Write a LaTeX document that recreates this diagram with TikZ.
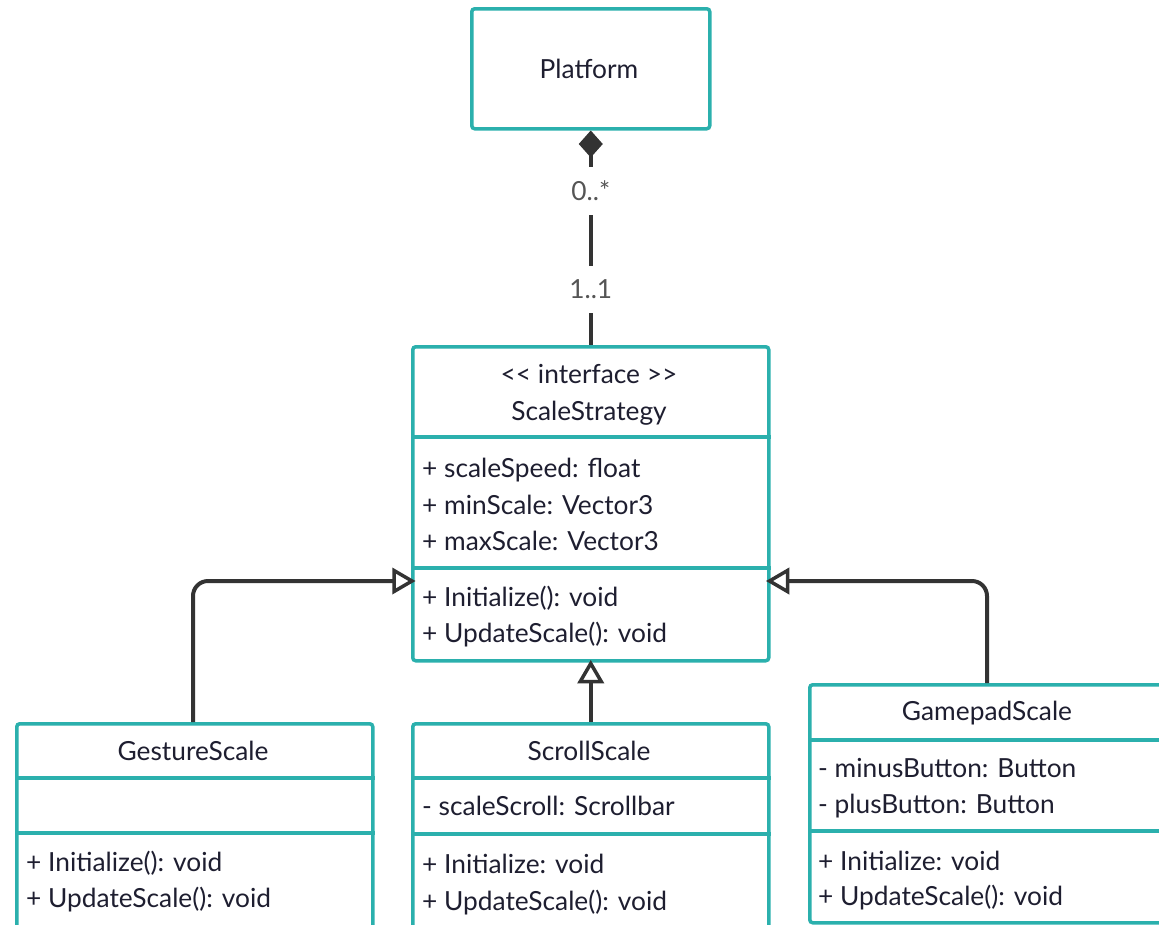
\documentclass[tikz,border=0pt]{standalone}
\usepackage{fontspec}
\setmainfont{Lato}
\usetikzlibrary{arrows.meta,calc}
\definecolor{teal}{RGB}{43,176,173}
\definecolor{ink}{RGB}{30,30,48}
\definecolor{wire}{RGB}{51,51,51}
\definecolor{multgray}{RGB}{85,85,85}
\tikzset{
  classbox/.style={draw=teal, line width=3.5pt, fill=white, rounded corners=3pt, anchor=north west, inner sep=0pt},
  sepline/.style={draw=teal, line width=3.5pt},
  txt/.style={text=ink, font=\fontsize{26.3}{30}\selectfont, inner sep=0pt},
  mult/.style={text=multgray, font=\fontsize{26.3}{30}\selectfont, fill=white, inner ysep=14pt, inner xsep=4pt},
  wireline/.style={draw=wire, line width=4pt},
  elbowline/.style={wireline, rounded corners=15pt},
  openhead/.style={draw=wire, line width=3.5pt, fill=white, line join=miter},
}
\begin{document}
\begin{tikzpicture}[x=1pt, y=-1pt]
\useasboundingbox (0,0) rectangle (1159,924);
\clip (0,0) rectangle (1159,924);

% Platform
\node[classbox, minimum width=238pt, minimum height=120pt] (plat) at (470,7) {};
\node[txt, anchor=base] at (589,78) {Platform};

% ScaleStrategy
\node[classbox, minimum width=356pt, minimum height=314pt] (ss) at (411,345) {};
\draw[sepline] (ss.west |- 0,437) -- (ss.east |- 0,437);
\draw[sepline] (ss.west |- 0,568) -- (ss.east |- 0,568);
\node[txt, anchor=base] at (589,383) {{<}{<} interface {>}{>}};
\node[txt, anchor=base] at (589,420) {ScaleStrategy};
\node[txt, anchor=base west] at (422,477) {+ scaleSpeed: float};
\node[txt, anchor=base west] at (422,514) {+ minScale: Vector3};
\node[txt, anchor=base west] at (422,550) {+ maxScale: Vector3};
\node[txt, anchor=base west] at (422,606) {+ Initialize(): void};
\node[txt, anchor=base west] at (422,642) {+ UpdateScale(): void};

% GestureScale
\node[classbox, minimum width=356pt, minimum height=240pt] (gs) at (15,722) {};
\draw[sepline] (gs.west |- 0,778) -- (gs.east |- 0,778);
\draw[sepline] (gs.west |- 0,833) -- (gs.east |- 0,833);
\node[txt, anchor=base] at (193,760) {GestureScale};
\node[txt, anchor=base west] at (26,871) {+ Initialize(): void};
\node[txt, anchor=base west] at (26,907) {+ UpdateScale(): void};

% ScrollScale
\node[classbox, minimum width=356pt, minimum height=240pt] (sc) at (411,722) {};
\draw[sepline] (sc.west |- 0,778) -- (sc.east |- 0,778);
\draw[sepline] (sc.west |- 0,834) -- (sc.east |- 0,834);
\node[txt, anchor=base] at (589,760) {ScrollScale};
\node[txt, anchor=base west] at (422,815) {- scaleScroll: Scrollbar};
\node[txt, anchor=base west] at (422,873) {+ Initialize: void};
\node[txt, anchor=base west] at (422,910) {+ UpdateScale(): void};

% GamepadScale
\node[classbox, minimum width=358pt, minimum height=238pt] (gp) at (808,683) {};
\draw[sepline] (gp.west |- 0,740) -- (gp.east |- 0,740);
\draw[sepline] (gp.west |- 0,831) -- (gp.east |- 0,831);
\node[txt, anchor=base] at (987,720) {GamepadScale};
\node[txt, anchor=base west] at (818,777) {- minusButton: Button};
\node[txt, anchor=base west] at (818,813) {- plusButton: Button};
\node[txt, anchor=base west] at (818,870) {+ Initialize: void};
\node[txt, anchor=base west] at (818,905) {+ UpdateScale(): void};

% composition
\draw[wireline, {Diamond[length=27pt, width=24pt]}-] (plat.south) -- (ss.north)
  node[mult, pos=0.28] {0..*}
  node[mult, pos=0.74] {1..1};

% generalisations
\coordinate (gsTop) at (193,722);
\coordinate (gsBend) at (193,581);
\coordinate (gpTop) at (987,683);
\coordinate (gpBend) at (987,581);
\coordinate (tipL) at ($(ss.west |- gsBend)+(1,0)$);
\coordinate (tipR) at ($(ss.east |- gpBend)+(-1,0)$);
\coordinate (tipB) at ($(ss.south)+(0,1)$);
\coordinate (baseL) at ($(tipL)+(-18,0)$);
\coordinate (baseR) at ($(tipR)+(18,0)$);
\coordinate (baseB) at ($(tipB)+(0,18)$);

\draw[elbowline] (gsTop) -- (gsBend) -- (baseL);
\draw[openhead] ($(baseL)+(0,-10.5)$) -- (tipL) -- ($(baseL)+(0,10.5)$) -- cycle;

\draw[elbowline] (gpTop) -- (gpBend) -- (baseR);
\draw[openhead] ($(baseR)+(0,-10.5)$) -- (tipR) -- ($(baseR)+(0,10.5)$) -- cycle;

\draw[wireline] (sc.north) -- (baseB);
\draw[openhead] ($(baseB)+(-10.5,0)$) -- (tipB) -- ($(baseB)+(10.5,0)$) -- cycle;
\end{tikzpicture}
\end{document}
